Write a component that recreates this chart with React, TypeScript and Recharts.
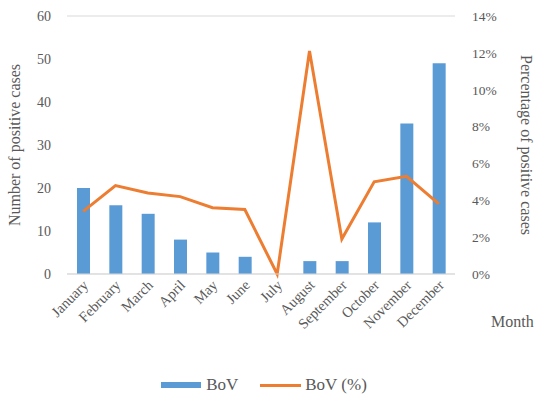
import React from "react";
import {
  ComposedChart,
  Bar,
  Line,
  XAxis,
  YAxis,
  CartesianGrid,
  Legend,
} from "recharts";

const months = [
  "January", "February", "March", "April", "May", "June",
  "July", "August", "September", "October", "November", "December",
];
const bovCases = [20, 16, 14, 8, 5, 4, 0, 3, 3, 12, 35, 49];
const bovPercent = [3.4, 4.8, 4.4, 4.2, 3.6, 3.5, 0, 12.1, 1.9, 5.0, 5.3, 3.8];
const leftTicks = [0, 10, 20, 30, 40, 50, 60];
const rightTicks = [0, 2, 4, 6, 8, 10, 12, 14];

const data = months.map((m, i) => ({
  month: m,
  bov: bovCases[i],
  pct: bovPercent[i],
}));

const FONT = "'Liberation Serif', 'Times New Roman', serif";
const TEXT = "#595959";
const BLUE = "#5B9BD5";
const ORANGE = "#ED7D31";

const MonthTick = (props: any) => {
  const { x, y, payload } = props;
  return (
    <text
      x={x + 6}
      y={y + 4}
      transform={`rotate(-45, ${x + 6}, ${y + 4})`}
      textAnchor="end"
      fill={TEXT}
      fontSize={14.5}
      fontFamily={FONT}
    >
      {payload.value}
    </text>
  );
};

const LegendBox = () => (
  <div
    style={{
      display: "flex",
      justifyContent: "center",
      alignItems: "center",
      gap: 22,
      fontFamily: FONT,
      fontSize: 17,
      color: TEXT,
      paddingRight: 8,
    }}
  >
    <span style={{ display: "flex", alignItems: "center", gap: 5 }}>
      <span style={{ width: 40, height: 6, background: BLUE, display: "inline-block" }} />
      BoV
    </span>
    <span style={{ display: "flex", alignItems: "center", gap: 4 }}>
      <span style={{ width: 41, height: 3, background: ORANGE, display: "inline-block" }} />
      BoV (%)
    </span>
  </div>
);

export default function App() {
  return (
    <div style={{ position: "absolute", left: 0, top: 0, background: "#fff" }}>
      <ComposedChart
        width={536}
        height={412}
        data={data}
        margin={{ top: 16, right: 0, bottom: 17, left: 0 }}
        barCategoryGap="30%"
      >
        <CartesianGrid vertical={false} stroke="#d9d9d9" />
        <XAxis
          dataKey="month"
          interval={0}
          tickLine={false}
          axisLine={{ stroke: "#d9d9d9" }}
          height={101}
          tick={<MonthTick />}
          label={{
            content: (p: any) => {
              const vb = p.viewBox;
              return (
                <text
                  x={vb.x + vb.width + 36}
                  y={vb.y + 53}
                  fill={TEXT}
                  fontSize={16}
                  fontFamily={FONT}
                >
                  Month
                </text>
              );
            },
          }}
        />
        <YAxis
          yAxisId="left"
          domain={[0, 60]}
          ticks={leftTicks}
          width={67}
          tickLine={false}
          axisLine={false}
          tickMargin={10}
          tick={{ fill: TEXT, fontSize: 14, fontFamily: FONT }}
          label={{
            value: "Number of positive cases",
            angle: -90,
            position: "insideLeft",
            offset: 14,
            style: { fill: TEXT, fontSize: 16, fontFamily: FONT, textAnchor: "middle" },
          }}
        />
        <YAxis
          yAxisId="right"
          orientation="right"
          domain={[0, 14]}
          ticks={rightTicks}
          width={81}
          tickLine={false}
          axisLine={false}
          tickMargin={11}
          tickFormatter={(v: number) => `${v}%`}
          tick={{ fill: TEXT, fontSize: 13.5, fontFamily: FONT }}
          label={{
            value: "Percentage of positive cases",
            angle: 90,
            position: "insideRight",
            offset: 9,
            style: { fill: TEXT, fontSize: 16, fontFamily: FONT, textAnchor: "middle" },
          }}
        />
        <Bar
          yAxisId="left"
          dataKey="bov"
          name="BoV"
          fill={BLUE}
          barSize={13}
          isAnimationActive={false}
        />
        <Line
          yAxisId="right"
          dataKey="pct"
          name="BoV (%)"
          type="linear"
          stroke={ORANGE}
          strokeWidth={3}
          dot={false}
          isAnimationActive={false}
        />
        <Legend content={<LegendBox />} verticalAlign="bottom" height={20} />
      </ComposedChart>
    </div>
  );
}
